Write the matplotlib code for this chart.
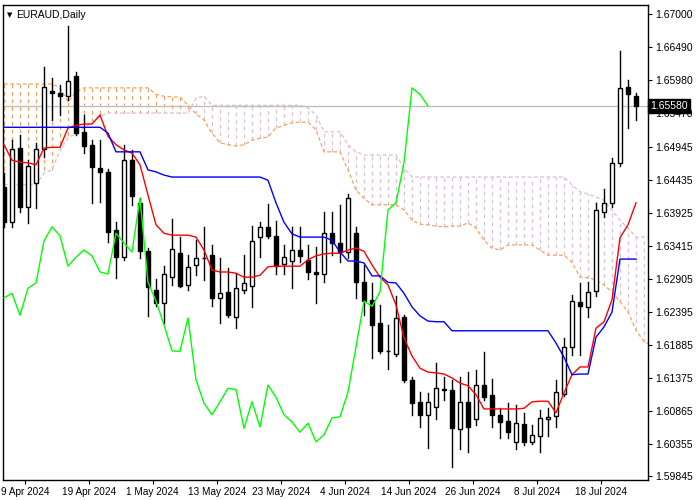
import matplotlib
matplotlib.use("Agg")
import matplotlib.pyplot as plt
import numpy as np
import pandas as pd

plt.rcParams['font.family'] = ['Liberation Sans', 'DejaVu Sans']

symbol = "EURAUD,Daily"
start_date = "2024-04-05"

opens = [1.6433,1.6378,1.6493,1.6402,1.6439,1.6491,1.6581,1.6578,1.6573,1.6604,
         1.6518,1.6498,1.6462,1.6456,1.6366,1.6324,1.6474,1.6408,1.6333,1.6273,
         1.6253,1.6293,1.6330,1.6281,1.6312,1.6323,1.6327,1.6261,1.6270,1.6231,
         1.6273,1.6279,1.6355,1.6371,1.6357,1.6313,1.6318,1.6335,1.6320,1.6301,
         1.6298,1.6361,1.6346,1.6332,1.6361,1.6285,1.6258,1.6222,1.6179,1.6174,
         1.6231,1.6134,1.6100,1.6080,1.6092,1.6120,1.6118,1.6058,1.6100,1.6073,
         1.6126,1.6111,1.6080,1.6070,1.6038,1.6066,1.6038,1.6047,1.6073,1.6078,
         1.6112,1.6185,1.6255,1.6247,1.6271,1.6394,1.6408,1.6470,1.6587,1.6573]
highs = [1.6454,1.6505,1.6513,1.6474,1.6501,1.6618,1.6601,1.6590,1.6682,1.6611,
         1.6544,1.6505,1.6505,1.6460,1.6378,1.6498,1.6490,1.6415,1.6338,1.6290,
         1.6310,1.6383,1.6355,1.6327,1.6351,1.6371,1.6343,1.6323,1.6307,1.6299,
         1.6327,1.6372,1.6378,1.6406,1.6380,1.6343,1.6371,1.6371,1.6343,1.6340,
         1.6394,1.6394,1.6405,1.6422,1.6371,1.6312,1.6284,1.6250,1.6219,1.6264,
         1.6234,1.6138,1.6115,1.6114,1.6160,1.6138,1.6134,1.6138,1.6146,1.6149,
         1.6177,1.6135,1.6090,1.6098,1.6095,1.6083,1.6064,1.6087,1.6090,1.6134,
         1.6199,1.6265,1.6284,1.6285,1.6408,1.6429,1.6477,1.6643,1.6598,1.6578]
lows = [1.6371,1.6371,1.6394,1.6377,1.6400,1.6479,1.6536,1.6544,1.6567,1.6513,
        1.6485,1.6408,1.6409,1.6347,1.6292,1.6320,1.6405,1.6323,1.6233,1.6248,
        1.6222,1.6281,1.6278,1.6273,1.6296,1.6289,1.6248,1.6222,1.6231,1.6214,
        1.6268,1.6247,1.6324,1.6354,1.6298,1.6298,1.6276,1.6316,1.6290,1.6253,
        1.6285,1.6327,1.6316,1.6323,1.6261,1.6234,1.6168,1.6175,1.6151,1.6171,
        1.6131,1.6080,1.6061,1.6029,1.6073,1.6103,1.5999,1.6027,1.6022,1.6064,
        1.6103,1.6061,1.6044,1.6044,1.6027,1.6033,1.6035,1.6022,1.6047,1.6061,
        1.6109,1.6172,1.6172,1.6231,1.6264,1.6386,1.6402,1.6465,1.6524,1.6536]
closes = [1.6378,1.6491,1.6402,1.6465,1.6491,1.6587,1.6578,1.6573,1.6597,1.6516,
          1.6496,1.6463,1.6456,1.6363,1.6324,1.6474,1.6419,1.6333,1.6278,1.6253,
          1.6298,1.6337,1.6279,1.6309,1.6323,1.6322,1.6261,1.6268,1.6234,1.6276,
          1.6284,1.6349,1.6371,1.6357,1.6310,1.6324,1.6335,1.6326,1.6301,1.6298,
          1.6361,1.6346,1.6332,1.6415,1.6285,1.6256,1.6219,1.6179,1.6178,1.6230,
          1.6134,1.6098,1.6080,1.6100,1.6121,1.6119,1.6059,1.6100,1.6061,1.6126,
          1.6107,1.6080,1.6069,1.6053,1.6067,1.6038,1.6049,1.6075,1.6077,1.6115,
          1.6185,1.6256,1.6248,1.6270,1.6397,1.6408,1.6470,1.6586,1.6576,1.6558]

tenkan = [1.6498,1.6474,1.6471,1.6470,1.6467,1.6493,1.6494,1.6494,1.6524,1.6528,
          1.6530,1.6530,1.6544,1.6511,1.6498,1.6490,1.6485,1.6467,1.6420,1.6374,
          1.6361,1.6358,1.6358,1.6358,1.6355,1.6335,1.6304,1.6301,1.6301,1.6299,
          1.6293,1.6293,1.6296,1.6309,1.6310,1.6310,1.6310,1.6310,1.6320,1.6326,
          1.6329,1.6330,1.6330,1.6335,1.6338,1.6333,1.6312,1.6293,1.6281,1.6250,
          1.6199,1.6171,1.6152,1.6146,1.6145,1.6143,1.6137,1.6129,1.6125,1.6111,
          1.6089,1.6089,1.6089,1.6089,1.6089,1.6090,1.6100,1.6101,1.6101,1.6083,
          1.6114,1.6142,1.6154,1.6154,1.6214,1.6224,1.6258,1.6354,1.6374,1.6408]
kijun = [1.6525]*13 + [1.6516,1.6487,1.6487,1.6487,1.6487,1.6459,1.6456,1.6451] + \
        [1.6448]*12 + [1.6443,1.6408,1.6378,1.6360,1.6355,1.6355,1.6355,1.6355,
                       1.6350,1.6332,1.6318,1.6318,1.6315,1.6295,1.6295,1.6285,
                       1.6284,1.6268,1.6247,1.6233,1.6225,1.6224,1.6224,1.6210] + \
        [1.6210]*12 + [1.6191,1.6169,1.6142,1.6143,1.6143,1.6200,1.6216,1.6239,
                       1.6321,1.6321,1.6321]

span_a = [1.6592]*7 + [1.6586,1.6564,1.6580] + [1.6586]*9 + \
         [1.6576,1.6573,1.6572,1.6572,1.6559,1.6546,1.6536,1.6516,1.6501,1.6498,
          1.6496,1.6498,1.6505,1.6508,1.6510,1.6524,1.6528,1.6532,1.6533,1.6533,
          1.6521,1.6487,1.6487,1.6487,1.6459,1.6428,1.6415,1.6405,1.6405,1.6405,
          1.6405,1.6397,1.6381,1.6375,1.6374,1.6372,1.6371,1.6372,1.6372,1.6377,
          1.6369,1.6350,1.6338,1.6335,1.6343,1.6343,1.6343,1.6343,1.6335,1.6327,
          1.6327,1.6327,1.6316,1.6293,1.6292,1.6289,1.6281,1.6270,1.6255,1.6239,
          1.6211,1.6193,1.6188]
span_b = [1.6436]*5 + [1.6454,1.6459,1.6490,1.6508,1.6516,1.6524,1.6533,1.6542] + \
         [1.6547]*11 + [1.6570,1.6573] + [1.6559]*12 + \
         [1.6555,1.6544,1.6518,1.6518,1.6518,1.6498,1.6487,1.6482,1.6482,1.6482,
          1.6482,1.6482,1.6462] + [1.6448]*20 + \
         [1.6436,1.6425,1.6422,1.6417,1.6412,1.6397,1.6381,1.6369,1.6355,1.6355,1.6355]

price_ticks = [1.67000,1.66490,1.65980,1.65470,1.64945,1.64435,1.63925,1.63415,
               1.62905,1.62395,1.61885,1.61375,1.60865,1.60355,1.59845]
date_labels = ["9 Apr 2024","19 Apr 2024","1 May 2024","13 May 2024","23 May 2024",
               "4 Jun 2024","14 Jun 2024","26 Jun 2024","8 Jul 2024","18 Jul 2024"]
last_price = 1.65580

n = len(closes)
x = np.arange(n)
dates = pd.bdate_range(start_date, periods=n)
date_str = [f"{d.day} {d.strftime('%b')} {d.year}" for d in dates]

fig = plt.figure(figsize=(7, 5), dpi=100)
ax = fig.add_axes([3/700, 20/500, 645/700, 475/500])
ax.set_facecolor("white")

# cloud
xc = np.arange(len(span_a))
for i in xc:
    col = "#f4a460" if span_a[i] > span_b[i] else "#d8bfd8"
    ax.plot([i, i], [span_a[i], span_b[i]], color=col, lw=0.9, ls=(0, (3, 3)), zorder=1)
ax.plot(xc, span_a, color="#f4a460", lw=0.9, ls=(0, (3, 2)), zorder=1)
ax.plot(xc, span_b, color="#d8bfd8", lw=0.9, ls=(0, (3, 2)), zorder=1)

ax.axhline(last_price, color="#c0c0c0", lw=1, zorder=1)

# candles
w = 0.62
for i in range(n):
    o, h, l, c = opens[i], highs[i], lows[i], closes[i]
    ax.plot([i, i], [l, h], color="black", lw=1, zorder=3)
    bottom = min(o, c)
    height = max(abs(c - o), 0.00003)
    face = "white" if c >= o else "black"
    ax.add_patch(plt.Rectangle((i - w/2, bottom), w, height, facecolor=face,
                               edgecolor="black", lw=1, zorder=4))

ax.plot(x, tenkan, color="red", lw=1, zorder=5)
ax.plot(np.arange(len(kijun)), kijun, color="blue", lw=1, zorder=5)
ax.plot(x[:n-26], closes[26:], color="#00ff00", lw=1, zorder=5)

ax.set_xlim(-0.125, 80.5)
ax.set_ylim(1.59790, 1.67143)

ax.yaxis.tick_right()
ax.set_yticks(price_ticks)
ax.set_yticklabels([f"{p:.5f}" for p in price_ticks], fontsize=7.5)
pos = [date_str.index(d) + 0.6 for d in date_labels]
ax.set_xticks(pos)
ax.set_xticklabels(date_labels, fontsize=7.2)
ax.tick_params(axis="both", length=3, width=0.8, direction="out", pad=2)
for s in ax.spines.values():
    s.set_linewidth(1)

ax.text(1.004, last_price, "1.65580", transform=ax.get_yaxis_transform(),
        fontsize=7.5, color="white", va="center", ha="left",
        bbox=dict(facecolor="black", edgecolor="black", pad=1.5), zorder=10, clip_on=False)

ax.text(0.006, 0.985, "\u25BC", transform=ax.transAxes, fontsize=5, va="top", ha="left",
        family="DejaVu Sans")
ax.text(0.02, 0.99, symbol, transform=ax.transAxes, fontsize=7.5, va="top", ha="left")

fig.savefig("out.png", dpi=100, facecolor="white")
